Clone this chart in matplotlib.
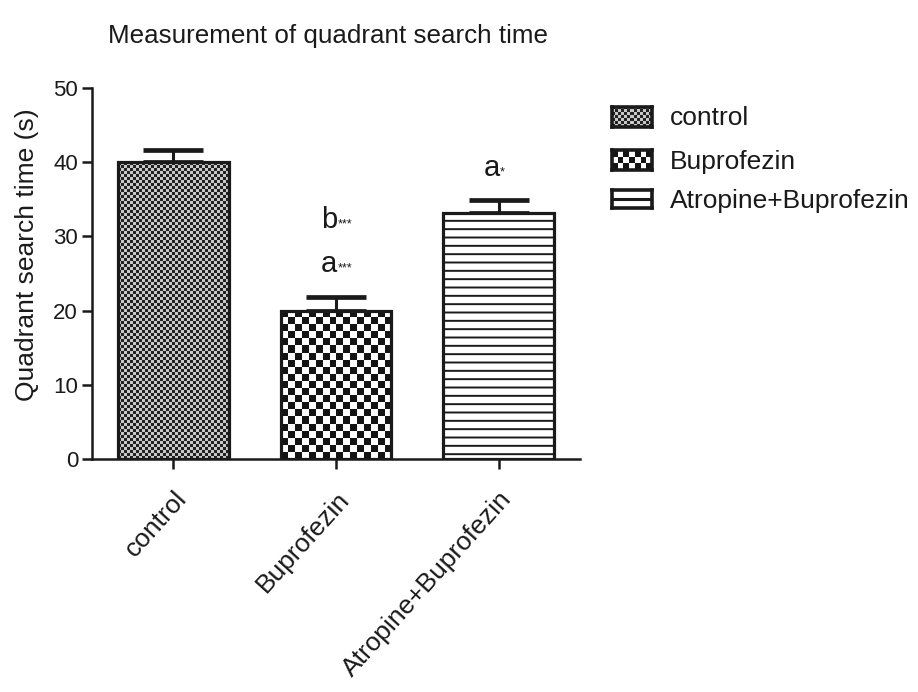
import numpy as np
import matplotlib
matplotlib.use("Agg")
import matplotlib.pyplot as plt
from matplotlib.colors import ListedColormap
import matplotlib.transforms as mtransforms

plt.rcParams['font.family'] = ['Liberation Sans', 'DejaVu Sans']

categories = ["control", "Buprofezin", "Atropine+Buprofezin"]
means = [40.0, 20.0, 33.2]
errors = [1.6, 1.8, 1.7]
y_ticks = [0, 10, 20, 30, 40, 50]
title = "Measurement of quadrant search time"
ylabel = "Quadrant search time (s)"
annotations = [  # (bar index, y, letter, stars)
    (1, 32.2, "b", "***"),
    (1, 26.3, "a", "***"),
    (2, 39.2, "a", "*"),
]

INK = '#1a1a1a'
W, H = 918, 692
plt.rcParams['hatch.linewidth'] = 1.4
plt.rcParams['hatch.color'] = INK
fig = plt.figure(figsize=(W / 100, H / 100), dpi=100)
ax = fig.add_axes([92 / W, 1 - 459 / H, (580 - 92) / W, (459 - 88) / H])

x = np.arange(len(categories))
bars = ax.bar(x, means, width=0.68, color='white', edgecolor='none',
              linewidth=0, zorder=2)
outline = ax.bar(x, means, width=0.68, color='none', edgecolor=INK,
                 linewidth=2.3, zorder=4)
outline[2].set_hatch('--')
ax.errorbar(x, means, yerr=[np.zeros(len(means)), errors], fmt='none',
            ecolor=INK, elinewidth=2.2, capsize=21.5, capthick=3.4, zorder=1)
ax.set_xlim(-0.5, 2.5)
ax.set_ylim(0, 50)


def checker(cell_px, w_px, h_px, dark, light):
    nx = max(1, int(round(w_px / cell_px)))
    ny = max(1, int(round(h_px / cell_px)))
    arr = (np.add.outer(np.arange(ny), np.arange(nx)) % 2).astype(float)
    return arr, ListedColormap([dark, light])


px_per_x = ax.bbox.width / 3.0
px_per_y = ax.bbox.height / 50.0

patterns = {0: (3, '#222222', '#c8c8c8'), 1: (7, '#141414', '#ffffff')}
for i, (cell, dk, lt) in patterns.items():
    b = bars[i]
    x0, w, h = b.get_x(), b.get_width(), b.get_height()
    arr, cmap = checker(cell, w * px_per_x, h * px_per_y, dk, lt)
    im = ax.imshow(arr, cmap=cmap, extent=[x0, x0 + w, 0, h], origin='lower',
                   interpolation='nearest', aspect='auto', zorder=3)
    im.set_clip_path(b)

ax.set_xlim(-0.5, 2.5)
ax.set_ylim(0, 50)

for s in ['top', 'right']:
    ax.spines[s].set_visible(False)
for s in ['left', 'bottom']:
    ax.spines[s].set_linewidth(1.8)
    ax.spines[s].set_color(INK)
ax.set_yticks(y_ticks)
ax.set_xticks(x)
ax.set_xticklabels(categories, rotation=48, ha='right', va='top',
                   rotation_mode='anchor', fontsize=19, color=INK)
shift = mtransforms.ScaledTranslation(-6 / 100, 0, fig.dpi_scale_trans)
for lbl in ax.get_xticklabels():
    lbl.set_transform(lbl.get_transform() + shift)
ax.tick_params(axis='both', length=7, width=1.8, color=INK)
ax.tick_params(axis='x', pad=13)
ax.tick_params(axis='y', pad=3, labelsize=16, labelcolor=INK)
ax.set_ylabel(ylabel, fontsize=19, color=INK)
ax.yaxis.set_label_coords(-0.108, 0.55)

for i, yv, letter, stars in annotations:
    ax.annotate(letter, (x[i], yv), xytext=(1, 0), textcoords='offset points',
                ha='right', va='center', fontsize=21, color=INK)
    ax.annotate(stars, (x[i], yv), xytext=(1, -3), textcoords='offset points',
                ha='left', va='center', fontsize=9, color=INK)

fig.text(108 / W, 1 - 43 / H, title, ha='left', va='baseline', fontsize=18.7,
         color=INK)

# manual legend
leg_box = [(107, 127), (150, 170), (190, 208)]
leg_base = [125, 169, 208]
for k, (top, bot) in enumerate(leg_box):
    lax = fig.add_axes([612 / W, 1 - bot / H, 40 / W, (bot - top) / H])
    lax.set_xticks([]); lax.set_yticks([])
    for s in lax.spines.values():
        s.set_linewidth(2.6)
        s.set_color(INK)
    if k in patterns:
        cell, dk, lt = patterns[k]
        if k == 1:
            cell = 6
        arr, cmap = checker(cell, 40, bot - top, dk, lt)
        lax.imshow(arr, cmap=cmap, interpolation='nearest', aspect='auto')
    else:
        lax.set_xlim(0, 1); lax.set_ylim(0, 1)
        lax.axhline(0.5, color=INK, lw=2.2)
    fig.text(670 / W, 1 - leg_base[k] / H, categories[k], ha='left',
             va='baseline', fontsize=19, color=INK)

fig.savefig('out.png', dpi=100)
